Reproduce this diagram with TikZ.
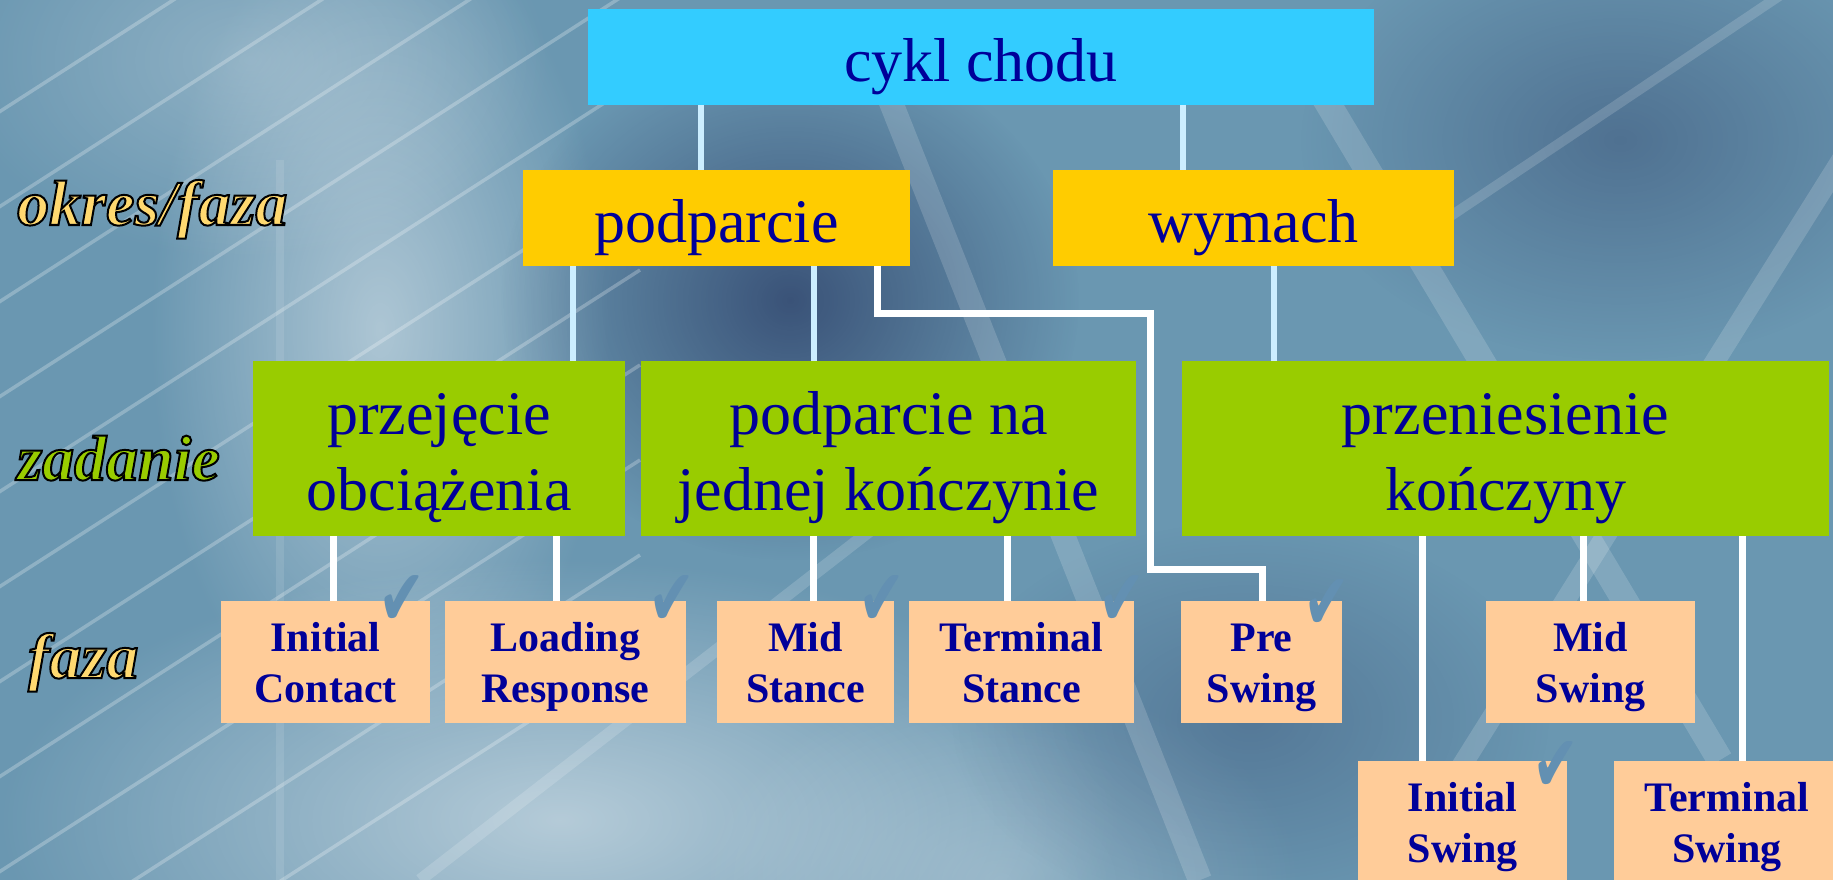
\documentclass[tikz,border=0pt]{standalone}
\usepackage{fontspec}
\usepackage{graphicx}
\setmainfont{Liberation Serif}
\newfontfamily\symfont{DejaVu Sans}
\usetikzlibrary{fadings}
\definecolor{cyanbox}{HTML}{33CCFF}
\definecolor{yelbox}{HTML}{FFCC00}
\definecolor{grnbox}{HTML}{99CC00}
\definecolor{peach}{HTML}{FFCC99}
\definecolor{txtblue}{HTML}{000099}
\definecolor{lbline}{HTML}{CCEEFF}
\definecolor{checkc}{HTML}{6390B2}
\definecolor{lblyel}{HTML}{FFD970}
\definecolor{bgmid}{HTML}{6A97B1}
\tikzfading[name=blob, inner color=transparent!0, outer color=transparent!100]
\newcommand\bigH{\rule{0pt}{62pt}}
\newcommand\phH{\rule{0pt}{40pt}}
\newcommand\chkmark{\scalebox{0.85}[1.2]{✔}}
% outlined label text: fill colour given as "r g b", black stroke
\newcommand\outlined[2]{\special{pdf:literal direct #1 rg 0 0 0 RG 2 Tr 2 w}#2\special{pdf:literal direct 0 Tr}}
\begin{document}
\begin{tikzpicture}[x=1pt,y=-1pt,
  box/.style={inner sep=0pt, outer sep=0pt, text=txtblue, align=center},
  big/.style={box, font=\fontsize{62}{76}\selectfont},
  phase/.style={box, fill=peach, minimum height=122, font=\bfseries\fontsize{42}{51}\selectfont},
  lbcon/.style={draw=lbline, line width=6pt},
  wcon/.style={draw=white, line width=7pt},
  chk/.style={text=checkc, font=\symfont\fontsize{66}{66}\selectfont, inner sep=0pt},
  lbl/.style={font=\bfseries\itshape\fontsize{64}{64}\selectfont, anchor=base west, inner sep=0pt},
  streak/.style={draw=white, opacity=0.25, line width=3.5pt},
  band/.style={draw=white, opacity=0.16},
  lite/.style={fill=white, path fading=blob},
  dark/.style={fill=black!80!blue, path fading=blob}]
\useasboundingbox (0,0) rectangle (1833,880);
\clip (0,0) rectangle (1833,880);
% background
\fill[bgmid] (0,0) rectangle (1833,880);
\fill[lite, opacity=0.45] (380,330) ellipse (230 and 420);
\fill[lite, opacity=0.5] (560,820) ellipse (560 and 260);
\fill[lite, opacity=0.25] (1000,880) ellipse (300 and 200);
\fill[lite, opacity=0.25] (250,60) ellipse (300 and 200);
\fill[dark, opacity=0.45] (790,300) ellipse (290 and 260);
\fill[dark, opacity=0.25] (1620,140) ellipse (320 and 220);
\fill[dark, opacity=0.2] (1250,720) ellipse (300 and 200);
\foreach \k in {0,...,10} {\draw[streak] (-60,{150+\k*95}) -- (640,{-300+\k*95});}
\draw[band, line width=26pt] (1290,40) -- (1720,760);
\draw[band, line width=20pt] (1860,130) -- (1390,880);
\draw[band, line width=24pt] (890,100) -- (1200,880);
\draw[band, line width=12pt] (420,880) -- (1000,430);
\draw[band, line width=10pt] (1400,250) -- (1833,-40);
\draw[band, line width=8pt, opacity=0.1] (280,160) -- (280,880);
% nodes
\node[big, fill=cyanbox, minimum width=786, minimum height=96] (cykl) at (981,57) {\bigH cykl chodu\vphantom{g}};
\node[big, fill=yelbox, minimum width=387, minimum height=96] (podp) at (716.5,218) {\bigH podparcie\vphantom{g}};
\node[big, fill=yelbox, minimum width=401, minimum height=96] (wym) at (1253.5,218) {\bigH wymach\vphantom{g}};
% connectors level 1-2
\draw[lbcon] (cykl.south -| 701,0) -- (podp.north -| 701,0);
\draw[lbcon] (cykl.south -| 1183,0) -- (wym.north -| 1183,0);
\draw[lbcon] (podp.south -| 573,0) -- (573,361);
\draw[lbcon] (podp.south -| 814,0) -- (814,361);
\draw[lbcon] (wym.south -| 1274,0) -- (1274,361);
% green
\node[big, fill=grnbox, minimum width=372, minimum height=175] (przej) at (439,448.5) {\bigH przejęcie\\obciążenia\vphantom{g}};
\node[big, fill=grnbox, minimum width=495, minimum height=175] (podjed) at (888.5,448.5) {\bigH podparcie na\\jednej kończynie\vphantom{g}};
\node[big, fill=grnbox, minimum width=647, minimum height=175] (przen) at (1505.5,448.5) {\bigH przeniesienie\\kończyny\vphantom{g}};
% phases
\node[phase, minimum width=209] (ic) at (325.5,662) {\phH Initial\\Contact\vphantom{g}};
\node[phase, minimum width=241] (lr) at (565.5,662) {\phH Loading\\Response\vphantom{g}};
\node[phase, minimum width=177] (ms) at (805.5,662) {\phH Mid\\Stance\vphantom{g}};
\node[phase, minimum width=225] (ts) at (1021.5,662) {\phH Terminal\\Stance\vphantom{g}};
\node[phase, minimum width=161] (ps) at (1261.5,662) {\phH Pre\\Swing\vphantom{g}};
\node[phase, minimum width=209] (msw) at (1590.5,662) {\phH Mid\\Swing\vphantom{g}};
\node[phase, minimum width=209] (isw) at (1462.5,822) {\phH Initial\\Swing\vphantom{g}};
\node[phase, minimum width=226] (tsw) at (1727,822) {\phH Terminal\\Swing\vphantom{g}};
% white connectors
\coordinate (e1) at (877,313);
\coordinate (e2) at (1150,569);
\draw[wcon] (podp.south -| 877,0) -- (e1) -| (e2) -| (ps.north -| 1262,0);
\draw[wcon] (przej.south -| 333,0) -- (ic.north -| 333,0);
\draw[wcon] (przej.south -| 556,0) -- (lr.north -| 556,0);
\draw[wcon] (podjed.south -| 813,0) -- (ms.north -| 813,0);
\draw[wcon] (podjed.south -| 1007,0) -- (ts.north -| 1007,0);
\draw[wcon] (przen.south -| 1422,0) -- (isw.north -| 1422,0);
\draw[wcon] (przen.south -| 1583,0) -- (msw.north -| 1583,0);
\draw[wcon] (przen.south -| 1742,0) -- (tsw.north -| 1742,0);
% checkmarks
\node[chk] (c1) at (402,601) {\chkmark};
\node[chk] (c2) at (672,601) {\chkmark};
\node[chk] (c3) at (882,601) {\chkmark};
\node[chk] (c4) at (1122,601) {\chkmark};
\node[chk] (c5) at (1327,605) {\chkmark};
\node[chk] (c6) at (1556,767) {\chkmark};
% side labels
\node[lbl] (lokres) at (17,225) {\outlined{1 0.85 0.44}{okres/faza}};
\node[lbl] (lzad) at (17,480) {\outlined{0.6 0.8 0}{zadanie}};
\node[lbl] (lfaza) at (28,678) {\outlined{1 0.85 0.44}{faza}};
\end{tikzpicture}
\end{document}
